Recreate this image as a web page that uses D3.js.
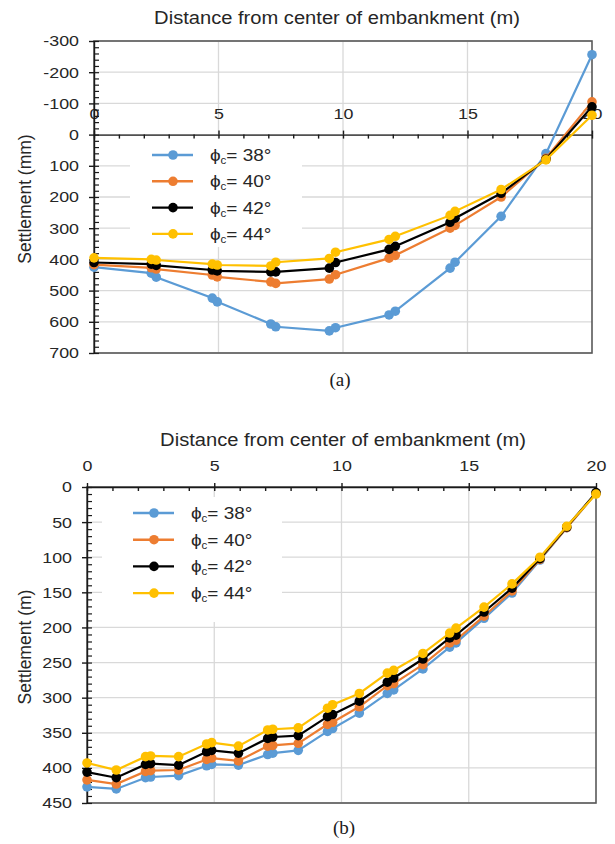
<!DOCTYPE html>
<html>
<head>
<meta charset="utf-8">
<script src="https://cdn.jsdelivr.net/npm/d3@7"></script>
<style>
  html, body { margin: 0; padding: 0; background: #fff; }
  svg { display: block; font-family: "Liberation Sans", Arial, sans-serif; }
</style>
</head>
<body>
<svg id="chart" width="615" height="844"></svg>
<script>
// Friction angles of the four runs and their colours
const frictionAngles = [38, 40, 42, 44];
const seriesColors = ["#5B9BD5", "#ED7D31", "#000000", "#FFC000"];

// (a) distance (m) and settlement (mm); negative values are heave
const distanceA = [0, 2.3, 2.5, 4.75, 4.95, 7.1, 7.3, 9.45, 9.7, 11.85, 12.1, 14.3, 14.5, 16.35, 18.15, 20];
const settleA38 = [425, 444, 457, 524, 536, 607, 616, 629, 619, 578, 566, 428, 409, 262, 61, -256];
const settleA40 = [417, 427, 431, 450, 456, 472, 477, 463, 449, 396, 387, 300, 291, 200, 76, -105];
const settleA42 = [410, 415, 419, 434, 437, 440, 440, 428, 410, 368, 358, 281, 268, 188, 79, -89];
const settleA44 = [395, 400, 402, 415, 418, 421, 409, 397, 377, 336, 326, 259, 246, 176, 81, -62];

// (b) distance (m) and settlement
const distanceB = [0, 1.15, 2.3, 2.5, 3.6, 4.7, 4.9, 5.95, 7.1, 7.3, 8.3, 9.45, 9.65, 10.7, 11.8, 12.05, 13.2, 14.25, 14.5, 15.6, 16.7, 17.8, 18.85, 20];
const settleB38 = [427, 430, 414, 413, 411, 397, 395, 396, 381, 379, 375, 348, 344, 322, 294, 289, 259, 228, 222, 187, 151, 104, 58, 9];
const settleB40 = [417, 423, 405, 404, 403, 388, 386, 390, 369, 368, 365, 338, 335, 313, 283, 280, 253, 222, 218, 184, 148, 103, 58, 9];
const settleB42 = [406, 414, 395, 394, 396, 377, 375, 379, 358, 356, 354, 327, 324, 305, 278, 272, 245, 215, 211, 178, 144, 102, 57, 8];
const settleB44 = [393, 403, 384, 383, 384, 366, 364, 369, 346, 345, 343, 315, 310, 294, 265, 261, 237, 208, 201, 171, 138, 100, 56, 10];

// Tick values and labels
const xTicks = [0, 5, 10, 15, 20];
const yTicksA = [-300, -200, -100, 0, 100, 200, 300, 400, 500, 600, 700];
const yTicksB = [0, 50, 100, 150, 200, 250, 300, 350, 400, 450];
const xTitle = "Distance from center of embankment (m)";
const yTitleA = "Settlement (mm)";
const yTitleB = "Settlement (m)";
const captionA = "(a)";
const captionB = "(b)";

const svg = d3.select("#chart");
const STRETCH = 1.15;
const gridColor = "#d9d9d9";
const frameColor = "#595959";
// plain hyphen for negative numbers
const plainFormat = d => String(d);

// widen horizontal text a little, keeping its height
function stretch(sel, k) {
  sel.each(function () {
    const w = this.getComputedTextLength();
    if (w > 0) {
      this.setAttribute("textLength", w * k);
      this.setAttribute("lengthAdjust", "spacingAndGlyphs");
    }
  });
}

function drawPanel(p) {
  const g = svg.append("g");
  const x = d3.scaleLinear().domain([0, 20]).range([p.left, p.right]);
  const y = d3.scaleLinear().domain(p.yDomain).range([p.top, p.bottom]);

  // gridlines
  g.append("g").selectAll("line").data(p.yTicks).join("line")
    .attr("x1", p.left).attr("x2", p.right)
    .attr("y1", d => y(d)).attr("y2", d => y(d))
    .attr("stroke", gridColor).attr("stroke-width", 1.3);
  g.append("g").selectAll("line").data(xTicks.slice(1, -1)).join("line")
    .attr("x1", d => x(d)).attr("x2", d => x(d))
    .attr("y1", p.top).attr("y2", p.bottom)
    .attr("stroke", gridColor).attr("stroke-width", 1.3);

  // plot frame
  g.append("rect")
    .attr("x", p.left).attr("y", p.top)
    .attr("width", p.right - p.left).attr("height", p.bottom - p.top)
    .attr("fill", "none").attr("stroke", frameColor).attr("stroke-width", 1.6);

  // legend backdrop hides the gridlines behind it
  g.append("rect")
    .attr("x", p.legendBox[0]).attr("y", p.legendBox[1])
    .attr("width", p.legendBox[2]).attr("height", p.legendBox[3])
    .attr("fill", "#fff");

  // x axis along settlement = 0
  const x0 = y(0);
  const xMain = g.append("g").attr("transform", `translate(0,${x0})`)
    .call(d3.axisTop(x).tickValues(xTicks).tickFormat(plainFormat)
      .tickSize(4).tickSizeOuter(0).tickPadding(12));
  xMain.select(".domain").attr("stroke", "#1a1a1a").attr("stroke-width", 1.4);
  xMain.selectAll(".tick line").attr("stroke", "#1a1a1a").attr("stroke-width", 1.4);
  xMain.selectAll(".tick text").attr("font-size", 15.5).attr("fill", "#262626")
    .attr("font-family", "Liberation Sans, Arial, sans-serif");
  stretch(xMain.selectAll(".tick text"), STRETCH);
  const xIn = g.append("g").attr("transform", `translate(0,${x0})`)
    .call(d3.axisBottom(x).tickValues(d3.range(0, 21, 1)).tickSize(4).tickSizeOuter(0).tickFormat(""));
  xIn.select(".domain").remove();
  xIn.selectAll(".tick line").attr("stroke", "#1a1a1a").attr("stroke-width", 1.4);

  // y axis
  const yMain = g.append("g").attr("transform", `translate(${p.left},0)`)
    .call(d3.axisLeft(y).tickValues(p.yTicks).tickFormat(plainFormat)
      .tickSize(5).tickSizeOuter(0).tickPadding(10));
  yMain.select(".domain").attr("stroke", "#1a1a1a").attr("stroke-width", 1.4);
  yMain.selectAll(".tick line").attr("stroke", "#1a1a1a").attr("stroke-width", 1.4);
  yMain.selectAll(".tick text").attr("font-size", 15.5).attr("fill", "#262626")
    .attr("font-family", "Liberation Sans, Arial, sans-serif");
  stretch(yMain.selectAll(".tick text"), STRETCH);
  const yIn = g.append("g").attr("transform", `translate(${p.left},0)`)
    .call(d3.axisRight(y).tickValues(d3.range(p.yDomain[0], p.yDomain[1] + 0.001, p.yMinor))
      .tickSize(5).tickSizeOuter(0).tickFormat(""));
  yIn.select(".domain").remove();
  yIn.selectAll(".tick line").attr("stroke", "#1a1a1a").attr("stroke-width", 1.2);

  // series
  const line = d3.line().x(d => x(d[0])).y(d => y(d[1]));
  p.series.forEach((vals, i) => {
    const pts = p.xs.map((d, j) => [d, vals[j]]);
    g.append("path").datum(pts)
      .attr("d", line).attr("fill", "none")
      .attr("stroke", seriesColors[i]).attr("stroke-width", 2.2);
    g.append("g").selectAll("circle").data(pts).join("circle")
      .attr("cx", d => x(d[0])).attr("cy", d => y(d[1]))
      .attr("r", p.r).attr("fill", seriesColors[i]);
  });

  // legend
  frictionAngles.forEach((a, i) => {
    const ly = p.legendY + i * p.legendStep;
    g.append("line")
      .attr("x1", p.legendX).attr("x2", p.legendX + 41)
      .attr("y1", ly).attr("y2", ly)
      .attr("stroke", seriesColors[i]).attr("stroke-width", 2.4);
    g.append("circle").attr("cx", p.legendX + 21).attr("cy", ly).attr("r", p.r)
      .attr("fill", seriesColors[i]);
    const t = g.append("g").attr("transform", `translate(${p.legendX + 58},${ly + 6}) scale(${STRETCH},1)`)
      .append("text").attr("font-size", 16.5).attr("fill", "#262626");
    t.append("tspan").text("\u03D5");
    t.append("tspan").attr("font-size", 10).attr("dy", 3).text("c");
    t.append("tspan").attr("dy", -3).text(`= ${a}\u00B0`);
  });

  // axis titles
  const tt = g.append("text")
    .attr("x", p.titleX).attr("y", p.titleY)
    .attr("text-anchor", "middle").attr("font-size", 17.5)
    .attr("fill", "#262626").text(xTitle);
  stretch(tt, STRETCH);
  g.append("text")
    .attr("transform", `translate(31,${(p.top + p.bottom) / 2 + 2}) rotate(-90)`)
    .attr("text-anchor", "middle").attr("font-size", 17.5)
    .attr("fill", "#262626").text(p.yTitle);

  // panel caption
  g.append("text")
    .attr("x", p.captionX).attr("y", p.captionY)
    .attr("text-anchor", "middle").attr("font-size", 19)
    .attr("font-family", "Liberation Serif, Times New Roman, serif")
    .attr("fill", "#1a1a1a").text(p.caption);
}

drawPanel({
  left: 94, right: 592, top: 41, bottom: 353,
  yDomain: [-300, 700], yTicks: yTicksA, yMinor: 20,
  xs: distanceA, series: [settleA38, settleA40, settleA42, settleA44], r: 4.8,
  legendBox: [130, 139, 172, 108], legendX: 152, legendY: 155, legendStep: 26.3,
  titleX: 337, titleY: 24, yTitle: yTitleA,
  caption: captionA, captionX: 340, captionY: 386
});

drawPanel({
  left: 87, right: 596, top: 487, bottom: 803,
  yDomain: [0, 450], yTicks: yTicksB, yMinor: 10,
  xs: distanceB, series: [settleB38, settleB40, settleB42, settleB44], r: 4.8,
  legendBox: [102, 497, 180, 125], legendX: 133, legendY: 513, legendStep: 26.7,
  titleX: 343, titleY: 446, yTitle: yTitleB,
  caption: captionB, captionX: 344, captionY: 834
});
</script>
</body>
</html>
